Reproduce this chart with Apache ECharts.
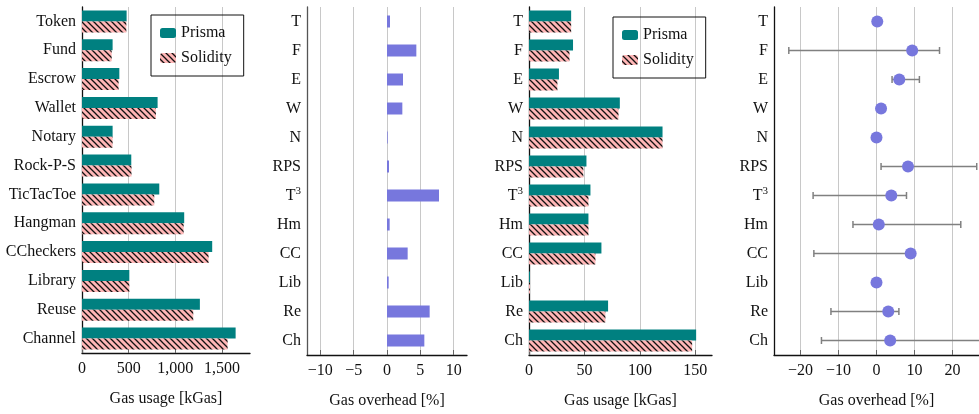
<!DOCTYPE html>
<html>
<head>
<meta charset="utf-8">
<script src="https://cdn.jsdelivr.net/npm/echarts@6/dist/echarts.min.js"></script>
<style>
  html, body { margin: 0; padding: 0; background: #fff; }
  #main { width: 979px; height: 414px; }
</style>
</head>
<body>
<div id="main"></div>
<script>
// ---- data ----
var contracts = ['Token', 'Fund', 'Escrow', 'Wallet', 'Notary', 'Rock-P-S', 'TicTacToe', 'Hangman', 'CCheckers', 'Library', 'Reuse', 'Channel'];
var shortNames = ['T', 'F', 'E', 'W', 'N', 'RPS', 'T3', 'Hm', 'CC', 'Lib', 'Re', 'Ch'];

// panel 1: deployment gas [kGas]
var deployPrisma = [478, 328, 400, 810, 328, 528, 828, 1095, 1395, 507, 1263, 1646];
var deploySolidity = [475, 318, 392, 792, 328, 530, 774, 1089, 1356, 507, 1192, 1560];
// panel 2: deployment overhead [%]
var deployOverhead = [0.45, 4.4, 2.4, 2.3, 0.1, 0.3, 7.8, 0.4, 3.1, 0.25, 6.4, 5.6];

// panel 3: execution gas [kGas]
var execPrisma = [38, 39.7, 27, 81.9, 120.4, 51.8, 55.4, 53.6, 65.3, 0.9, 71.3, 150.7];
var execSolidity = [38, 36.5, 25.6, 80.7, 120.4, 49, 53.6, 53.6, 59.9, 0.9, 68.9, 147.1];
// panel 4: execution overhead [%] mean, min, max (null = no bar)
var execOverhead = [0.2, 9.4, 6.0, 1.2, 0, 8.3, 3.9, 0.6, 9.0, 0, 3.1, 3.6];
var execOverheadLow = [null, -23.1, 4.1, null, null, 1.2, -16.7, -6.2, -16.5, null, -12.0, -14.5];
var execOverheadHigh = [null, 16.6, 11.3, null, null, 26.4, 7.9, 22.2, 9.5, null, 5.9, 30];

var teal = '#008080';
var purple = '#7777dd';
var font = 'Liberation Serif';

// pink with black "\" hatching
function hatch() {
  var c = document.createElement('canvas');
  c.width = 6; c.height = 6;
  var g = c.getContext('2d');
  g.fillStyle = '#ffb6b6';
  g.fillRect(0, 0, 6, 6);
  g.strokeStyle = '#111';
  g.lineWidth = 1.3;
  g.beginPath();
  g.moveTo(-1, -1); g.lineTo(7, 7);
  g.moveTo(-1, 5); g.lineTo(1, 7);
  g.moveTo(5, -1); g.lineTo(7, 1);
  g.stroke();
  return { image: c, repeat: 'repeat' };
}
var pinkHatch = hatch();

function fmtNum(v) {
  var s = Math.abs(v).toString().replace(/\B(?=(\d{3})+(?!\d))/g, ',');
  return v < 0 ? '\u2212' + s : s;
}

// T3 -> T with superscript 3
function fmtCat(v) {
  var m = /^([A-Za-z]+)(\d)$/.exec(v);
  return m ? m[1] + '{sup|' + m[2] + '}' : v;
}

function xAxisFor(gi, name, min, max, extra) {
  var ax = {
    type: 'value', gridIndex: gi, min: min, max: max,
    name: name, nameLocation: 'middle', nameGap: 38,
    nameTextStyle: { fontFamily: font, fontSize: 16, color: '#111' },
    axisLine: { show: true, onZero: false, lineStyle: { color: '#111', width: 1.3 } },
    axisTick: { show: true, inside: true, length: 5, lineStyle: { color: '#666' } },
    axisLabel: { fontFamily: font, fontSize: 16, color: '#111', margin: 8,
      showMinLabel: min === 0, showMaxLabel: false, formatter: fmtNum },
    splitLine: { show: true, showMinLine: false, showMaxLine: false, lineStyle: { color: '#c8c8c8', width: 1 } }
  };
  for (var k in extra) ax[k] = extra[k];
  return ax;
}

function yAxisFor(gi, cats, lineColor) {
  return {
    type: 'category', gridIndex: gi, data: cats, inverse: true,
    axisLine: { show: true, onZero: false, lineStyle: { color: lineColor, width: 1.3 } },
    axisTick: { show: false },
    axisLabel: { fontFamily: font, fontSize: 16, color: '#111', margin: 6, lineHeight: 20,
      formatter: fmtCat,
      rich: { sup: { fontFamily: font, fontSize: 11, color: '#111', lineHeight: 11, verticalAlign: 'top' } } },
    splitLine: { show: false }
  };
}

function legendAt(left, top) {
  return {
    left: left, top: top, orient: 'vertical',
    data: ['Prisma', 'Solidity'],
    borderColor: '#111', borderWidth: 1, borderRadius: 0,
    padding: [10, 12, 10, 9],
    itemWidth: 16, itemHeight: 10, itemGap: 9,
    selectedMode: false,
    textStyle: { fontFamily: font, fontSize: 16, color: '#111' }
  };
}

// error bars for panel 4
var errData = [];
for (var i = 0; i < shortNames.length; i++) {
  if (execOverheadLow[i] !== null) errData.push([i, execOverheadLow[i], execOverheadHigh[i]]);
}

var myChart = echarts.init(document.getElementById('main'));
var option = {
  animation: false,
  backgroundColor: '#fff',
  grid: [
    { left: 82, right: 729, top: 7, bottom: 61 },
    { left: 307, right: 512, top: 7, bottom: 59 },
    { left: 529, right: 267, top: 7, bottom: 59 },
    { left: 774, right: 0, top: 7, bottom: 58 }
  ],
  legend: [legendAt(151, 15), legendAt(613, 17)],
  xAxis: [
    xAxisFor(0, 'Gas usage [kGas]', 0, 1800, { interval: 500 }),
    xAxisFor(1, 'Gas overhead [%]', -12, 12, { splitNumber: 5 }),
    xAxisFor(2, 'Gas usage [kGas]', 0, 165, { interval: 50 }),
    xAxisFor(3, 'Gas overhead [%]', -27, 27, { splitNumber: 5 })
  ],
  yAxis: [
    yAxisFor(0, contracts, '#111'),
    yAxisFor(1, shortNames, '#555'),
    yAxisFor(2, shortNames, '#111'),
    yAxisFor(3, shortNames, '#111')
  ],
  series: [
    { name: 'Prisma', type: 'bar', xAxisIndex: 0, yAxisIndex: 0, data: deployPrisma,
      barWidth: 11, barGap: '0%', itemStyle: { color: teal } },
    { name: 'Solidity', type: 'bar', xAxisIndex: 0, yAxisIndex: 0, data: deploySolidity,
      barWidth: 11, barGap: '0%', itemStyle: { color: pinkHatch } },
    { name: 'overhead', type: 'bar', xAxisIndex: 1, yAxisIndex: 1, data: deployOverhead,
      barWidth: 12, itemStyle: { color: purple } },
    { name: 'Prisma', type: 'bar', xAxisIndex: 2, yAxisIndex: 2, data: execPrisma,
      barWidth: 11, barGap: '0%', itemStyle: { color: teal } },
    { name: 'Solidity', type: 'bar', xAxisIndex: 2, yAxisIndex: 2, data: execSolidity,
      barWidth: 11, barGap: '0%', itemStyle: { color: pinkHatch } },
    { name: 'range', type: 'custom', xAxisIndex: 3, yAxisIndex: 3, data: errData, clip: true,
      encode: { x: [1, 2], y: 0 },
      renderItem: function(params, api) {
        var y = api.value(0);
        var lo = api.coord([api.value(1), y]);
        var hi = api.coord([api.value(2), y]);
        var h = 3.5;
        var st = { stroke: '#808080', lineWidth: 1.5 };
        return { type: 'group', children: [
          { type: 'line', shape: { x1: lo[0], y1: lo[1], x2: hi[0], y2: hi[1] }, style: st },
          { type: 'line', shape: { x1: lo[0], y1: lo[1] - h, x2: lo[0], y2: lo[1] + h }, style: st },
          { type: 'line', shape: { x1: hi[0], y1: hi[1] - h, x2: hi[0], y2: hi[1] + h }, style: st }
        ] };
      }
    },
    { name: 'mean', type: 'scatter', xAxisIndex: 3, yAxisIndex: 3, data: execOverhead,
      symbolSize: 12, itemStyle: { color: purple, opacity: 1 }, z: 5 }
  ]
};
myChart.setOption(option);
</script>
</body>
</html>
